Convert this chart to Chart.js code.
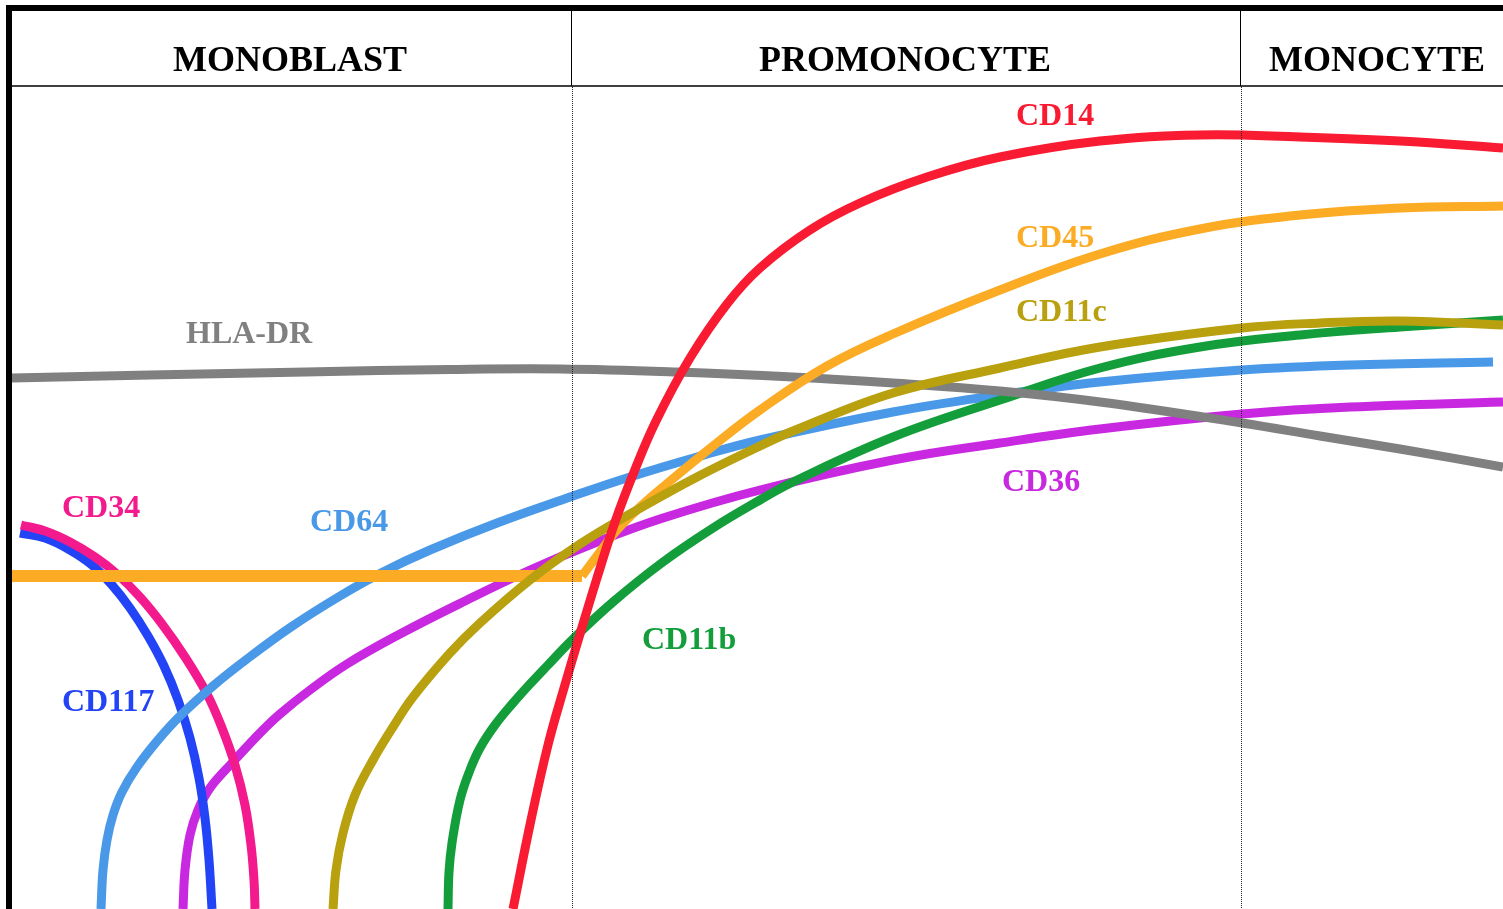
<!DOCTYPE html>
<html>
<head>
<meta charset="utf-8">
<script src="https://cdn.jsdelivr.net/npm/chart.js@4/dist/chart.umd.min.js"></script>
<style>
  html, body { margin: 0; padding: 0; background: #fff; }
  canvas { display: block; }
</style>
</head>
<body>
<canvas id="markerChart" width="1503" height="909"></canvas>
<script>
// stages across the top
const stages = ['MONOBLAST', 'PROMONOCYTE', 'MONOCYTE'];

// expression curves (x = maturation, y = intensity)
const cd14X = [51.3, 53.1, 54.8, 56.4, 58.0, 59.7, 61.5, 63.4, 65.6, 69.0, 72.7, 76.0, 81.0, 86.0, 92.7, 100.0, 110.0, 120.0, 130.0, 140.0, 150.3];
const cd14Y = [0, 8.9, 16.4, 22.1, 27.5, 33.1, 38.7, 43.7, 48.8, 55.1, 60.5, 64.1, 67.9, 70.6, 73.2, 75.2, 76.8, 77.4, 77.2, 76.8, 76.1];

const cd45BaseX = [1.2, 58.2];
const cd45BaseY = [33.3, 33.3];
const cd45X = [58.2, 60.0, 61.7, 64.0, 66.3, 71.3, 76.0, 82.7, 89.3, 100.0, 110.0, 120.0, 130.0, 140.0, 150.3];
const cd45Y = [33.3, 35.7, 37.9, 40.2, 42.2, 46.3, 49.9, 54.3, 57.5, 61.9, 65.5, 68.0, 69.4, 70.1, 70.3];

const cd11cX = [33.3, 33.6, 34.3, 35.5, 37.3, 39.3, 41.3, 45.0, 48.0, 53.0, 58.0, 63.0, 69.7, 76.0, 79.3, 89.3, 100.0, 110.0, 124.2, 132.0, 140.0, 150.3];
const cd11cY = [0, 3.9, 7.6, 11.4, 14.9, 18.2, 21.2, 25.6, 28.6, 32.9, 36.5, 39.5, 43.2, 46.3, 47.8, 51.6, 54.1, 56.2, 58.1, 58.6, 58.8, 58.4];

const cd11bX = [44.8, 44.9, 45.2, 46.0, 47.0, 48.0, 49.5, 51.3, 53.0, 54.7, 57.3, 61.3, 66.3, 71.3, 76.0, 79.3, 89.3, 100.0, 110.0, 120.0, 130.0, 140.0, 150.3];
const cd11bY = [0, 3.7, 6.6, 10.9, 13.9, 16.1, 18.4, 20.6, 22.5, 24.3, 27.0, 30.7, 34.7, 38.1, 40.9, 42.7, 47.2, 50.9, 54.1, 56.2, 57.4, 58.2, 58.9];

const cd64X = [10.1, 10.3, 10.7, 11.3, 12.2, 13.7, 15.8, 18.0, 21.3, 24.7, 29.1, 34.0, 38.3, 43.0, 49.7, 57.3, 63.0, 69.7, 76.0, 89.3, 99.3, 110.0, 124.2, 135.0, 149.3];
const cd64Y = [0, 3.9, 6.9, 9.4, 11.7, 14.2, 16.9, 19.3, 22.3, 25.0, 28.2, 31.3, 33.7, 35.9, 38.6, 41.3, 43.2, 45.2, 46.9, 49.7, 51.3, 52.7, 53.9, 54.4, 54.7];

const cd36X = [18.3, 18.5, 19.0, 19.8, 21.0, 23.2, 26.0, 28.0, 31.0, 34.7, 40.0, 46.3, 53.0, 59.7, 66.3, 76.0, 89.3, 100.0, 110.0, 124.2, 135.0, 150.3];
const cd36Y = [0, 3.9, 7.4, 9.9, 12.1, 14.6, 17.6, 19.5, 21.9, 24.5, 27.5, 30.7, 33.9, 36.7, 39.1, 41.9, 44.9, 46.6, 48.0, 49.5, 50.2, 50.7];

const hlaX = [1.2, 15.0, 30.6, 45.0, 56.0, 67.7, 79.3, 89.3, 100.0, 110.0, 124.2, 132.0, 140.0, 150.3];
const hlaY = [53.1, 53.4, 53.7, 53.95, 54.0, 53.7, 53.2, 52.6, 51.8, 50.7, 48.6, 47.3, 46.0, 44.2];

const cd34X = [2.1, 4.5, 7.0, 9.5, 11.7, 14.0, 16.2, 18.5, 20.7, 22.2, 23.5, 24.5, 25.1, 25.4, 25.5];
const cd34Y = [38.4, 37.8, 36.7, 35.2, 33.5, 31.2, 28.5, 25.2, 21.5, 18.1, 14.4, 10.4, 6.4, 2.9, 0];

const cd117X = [2.0, 4.5, 7.0, 9.2, 11.2, 13.0, 14.8, 16.4, 17.8, 19.0, 19.9, 20.5, 20.9, 21.2];
const cd117Y = [37.6, 37.1, 35.9, 34.4, 32.4, 30.1, 27.3, 24.3, 20.9, 17.1, 13.1, 9.1, 4.9, 0];

const pts = (xs, ys) => xs.map((x, i) => ({ x: x, y: ys[i] }));

function curve(label, xs, ys, color, width, tension) {
    return {
        label: label,
        data: pts(xs, ys),
        borderColor: color,
        borderWidth: width || 9,
        pointRadius: 0,
        fill: false,
        tension: tension === undefined ? 0.4 : tension
    };
}

// first dataset is drawn on top
const datasets = [
    curve('CD14', cd14X, cd14Y, '#f81b31'),
    curve('CD11c', cd11cX, cd11cY, '#b8a00f'),
    curve('CD45', cd45X, cd45Y, '#fbab24'),
    curve('CD45 base', cd45BaseX, cd45BaseY, '#fbab24', 12, 0),
    curve('HLA-DR', hlaX, hlaY, '#808080'),
    curve('CD11b', cd11bX, cd11bY, '#149e3b'),
    curve('CD64', cd64X, cd64Y, '#4a99e8'),
    curve('CD34', cd34X, cd34Y, '#f31a8e'),
    curve('CD117', cd117X, cd117Y, '#2344f6'),
    curve('CD36', cd36X, cd36Y, '#c828e0')
];

const labels = [
    { text: 'CD14', x: 1016, y: 125, color: '#f81b31' },
    { text: 'CD45', x: 1016, y: 247, color: '#fbab24' },
    { text: 'CD11c', x: 1016, y: 321, color: '#b8a00f' },
    { text: 'HLA-DR', x: 186, y: 343, color: '#808080' },
    { text: 'CD36', x: 1002, y: 491, color: '#c828e0' },
    { text: 'CD34', x: 62, y: 517, color: '#f31a8e' },
    { text: 'CD64', x: 310, y: 531, color: '#4a99e8' },
    { text: 'CD11b', x: 642, y: 649, color: '#149e3b' },
    { text: 'CD117', x: 62, y: 711, color: '#2344f6' }
];

// frame, stage header and curve names
const framePlugin = {
    id: 'frame',
    afterDatasetsDraw(chart) {
        const ctx = chart.ctx;
        const W = chart.width, H = chart.height;
        ctx.save();

        // dotted stage boundaries
        ctx.strokeStyle = '#222';
        ctx.lineWidth = 1;
        ctx.setLineDash([1, 1]);
        [572.5, 1241.5].forEach(x => {
            ctx.beginPath();
            ctx.moveTo(x, 87);
            ctx.lineTo(x, H);
            ctx.stroke();
        });
        ctx.setLineDash([]);

        // header box
        ctx.fillStyle = '#fff';
        ctx.fillRect(12, 11, W - 12, 75);
        ctx.strokeStyle = '#000';
        ctx.lineWidth = 1.5;
        ctx.beginPath();
        ctx.moveTo(12, 86);
        ctx.lineTo(W, 86);
        ctx.stroke();
        ctx.lineWidth = 1;
        [571.5, 1240.5].forEach(x => {
            ctx.beginPath();
            ctx.moveTo(x, 11);
            ctx.lineTo(x, 86);
            ctx.stroke();
        });

        // thick outer border
        ctx.fillStyle = '#000';
        ctx.fillRect(6, 5, W - 6, 6);
        ctx.fillRect(6, 5, 6, H - 5);

        ctx.font = 'bold 36px "Liberation Serif", "Times New Roman", serif';
        ctx.textAlign = 'center';
        ctx.textBaseline = 'alphabetic';
        ctx.fillStyle = '#000';
        const centers = [290, 905, 1377];
        stages.forEach((s, i) => ctx.fillText(s, centers[i], 71));

        ctx.font = 'bold 32px "Liberation Serif", "Times New Roman", serif';
        ctx.textAlign = 'left';
        labels.forEach(l => {
            ctx.fillStyle = l.color;
            ctx.fillText(l.text, l.x, l.y);
        });
        ctx.restore();
    }
};

new Chart(document.getElementById('markerChart'), {
    type: 'line',
    data: { datasets: datasets },
    options: {
        responsive: false,
        animation: false,
        layout: { padding: 0 },
        plugins: {
            legend: { display: false },
            tooltip: { enabled: false }
        },
        scales: {
            x: { type: 'linear', min: 0, max: 150.3, display: false },
            y: { type: 'linear', min: 0, max: 90.9, display: false }
        }
    },
    plugins: [framePlugin]
});
</script>
</body>
</html>
